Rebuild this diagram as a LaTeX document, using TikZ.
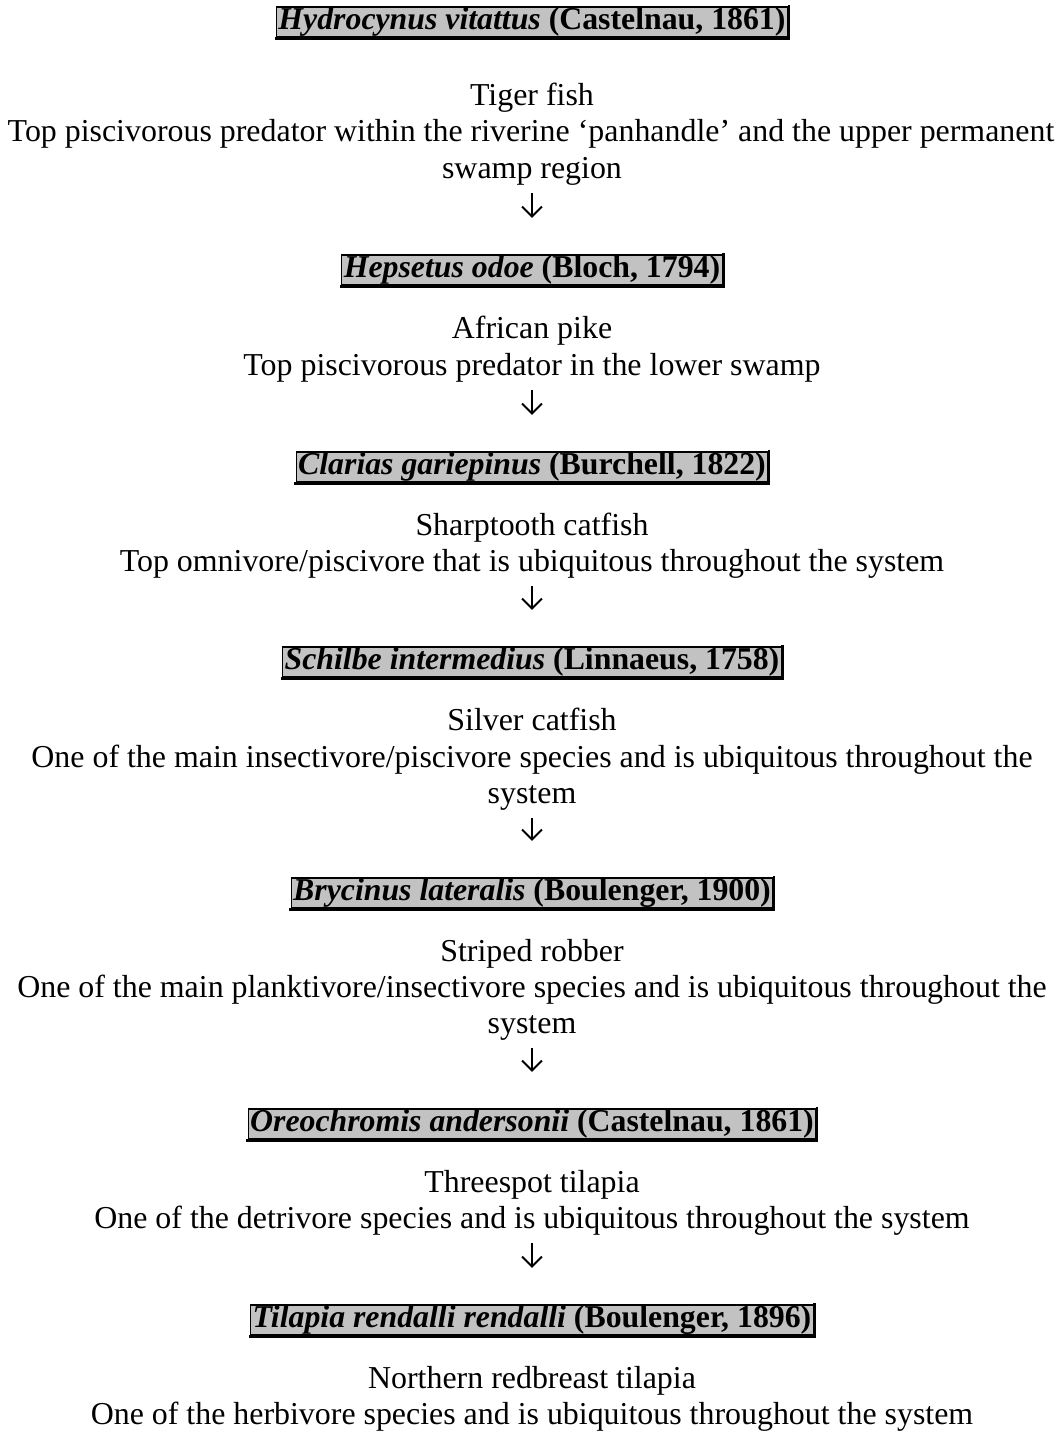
\documentclass[tikz,border=0pt]{standalone}
\usepackage{fontspec}
\setmainfont{Liberation Serif}
\usetikzlibrary{arrows.meta}
\newcommand{\boxshade}[1]{\draw[line width=2.6pt,line cap=rect] ([xshift=0.7pt]#1.north east) -- ([xshift=0.7pt,yshift=-0.7pt]#1.south east) -- ([yshift=-0.7pt]#1.south west);}
\tikzset{
  line/.style={anchor=base, inner sep=0pt, text height=22pt, text depth=8pt, font=\fontsize{31.9}{36.6}\selectfont},
  species/.style={draw=black, line width=1.2pt, fill=black!24, inner xsep=2pt, inner ysep=0.5pt, text height=22pt, text depth=7pt, font=\fontsize{31.8}{36.6}\selectfont\bfseries},
  flow/.style={line width=1.9pt, -{Straight Barb[length=10pt,width=20pt,line width=1.9pt]}, shorten <=7pt, shorten >=36.5pt}
}
\begin{document}
\begin{tikzpicture}[x=1pt,y=1pt]
\useasboundingbox (0,0) rectangle (1063,-1432);
% box 1
\node[species] (b1) at (532,-22) {\textit{Hydrocynus vitattus} (Castelnau, 1861)};
\boxshade{b1}
\node[line] (t1a) at (532,-105) {Tiger fish};
\node[line] (t1b) at (531,-141) {Top piscivorous predator within the riverine ‘panhandle’ and the upper permanent};
\node[line] (t1c) at (532,-178) {swamp region};
% box 2
\node[species] (b2) at (532,-270) {\textit{Hepsetus odoe} (Bloch, 1794)};
\boxshade{b2}
\node[line] (t2a) at (532,-338) {African pike};
\node[line] (t2b) at (532,-375) {Top piscivorous predator in the lower swamp};
% box 3
\node[species] (b3) at (532,-467) {\textit{Clarias gariepinus} (Burchell, 1822)};
\boxshade{b3}
\node[line] (t3a) at (532,-535) {Sharptooth catfish};
\node[line] (t3b) at (532,-571) {Top omnivore/piscivore that is ubiquitous throughout the system};
% box 4
\node[species] (b4) at (532,-662) {\textit{Schilbe intermedius} (Linnaeus, 1758)};
\boxshade{b4}
\node[line] (t4a) at (532,-730) {Silver catfish};
\node[line] (t4b) at (532,-767) {One of the main insectivore/piscivore species and is ubiquitous throughout the};
\node[line] (t4c) at (532,-803) {system};
% box 5
\node[species] (b5) at (532,-893) {\textit{Brycinus lateralis} (Boulenger, 1900)};
\boxshade{b5}
\node[line] (t5a) at (532,-961) {Striped robber};
\node[line] (t5b) at (532,-997) {One of the main planktivore/insectivore species and is ubiquitous throughout the};
\node[line] (t5c) at (532,-1033) {system};
% box 6
\node[species] (b6) at (532,-1124) {\textit{Oreochromis andersonii} (Castelnau, 1861)};
\boxshade{b6}
\node[line] (t6a) at (532,-1192) {Threespot tilapia};
\node[line] (t6b) at (532,-1228) {One of the detrivore species and is ubiquitous throughout the system};
% box 7
\node[species] (b7) at (532,-1320) {\textit{Tilapia rendalli rendalli} (Boulenger, 1896)};
\boxshade{b7}
\node[line] (t7a) at (532,-1388) {Northern redbreast tilapia};
\node[line] (t7b) at (532,-1424) {One of the herbivore species and is ubiquitous throughout the system};
% arrows
\draw[flow] (t1c.south) -- (b2.north);
\draw[flow] (t2b.south) -- (b3.north);
\draw[flow] (t3b.south) -- (b4.north);
\draw[flow] (t4c.south) -- (b5.north);
\draw[flow] (t5c.south) -- (b6.north);
\draw[flow] (t6b.south) -- (b7.north);
\end{tikzpicture}
\end{document}
